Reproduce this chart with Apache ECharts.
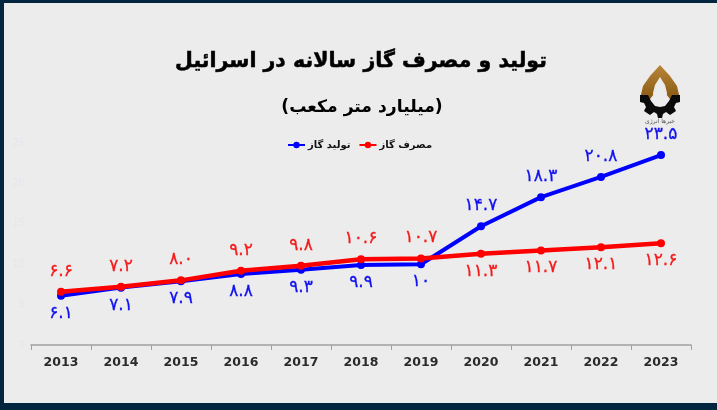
<!DOCTYPE html>
<html><head><meta charset="utf-8">
<script src="https://cdn.jsdelivr.net/npm/echarts@6/dist/echarts.min.js"></script>
<style>
html,body{margin:0;padding:0;width:717px;height:410px;background:#03263f;overflow:hidden}
#panel{position:absolute;left:4px;top:3px;width:713px;height:400px;background:#ececec}
#c{position:absolute;left:0;top:0;width:717px;height:410px;filter:blur(.65px)}
</style></head><body><div id="panel"></div><div id="c"></div>
<script>
const years=['2013','2014','2015','2016','2017','2018','2019','2020','2021','2022','2023'];
const production=[6.1,7.1,7.9,8.8,9.3,9.9,10,14.7,18.3,20.8,23.5];
const consumption=[6.6,7.2,8.0,9.2,9.8,10.6,10.7,11.3,11.7,12.1,12.6];
const productionLabels=['۶.۱','۷.۱','۷.۹','۸.۸','۹.۳','۹.۹','۱۰','۱۴.۷','۱۸.۳','۲۰.۸','۲۳.۵'];
const consumptionLabels=['۶.۶','۷.۲','۸.۰','۹.۲','۹.۸','۱۰.۶','۱۰.۷','۱۱.۳','۱۱.۷','۱۲.۱','۱۲.۶'];
const titleText='تولید و مصرف گاز سالانه در اسرائیل';
const subtitleText='(میلیارد متر مکعب)';
const productionName='تولید گاز';
const consumptionName='مصرف گاز';
const logoCaption='خبرها انرژی';

const FF='"DejaVu Sans"';
function items(vals,other,labels,color){
  return vals.map((v,i)=>{
    const up=v>other[i];
    return {value:v,label:{show:true,position:up?'top':'bottom',distance:up?8:5,formatter:labels[i],
      color:color,fontFamily:FF,fontSize:17,fontWeight:'normal',textBorderColor:color,textBorderWidth:.3}};
  });
}
const chart=echarts.init(document.getElementById('c'));
chart.setOption({
  animation:false,
  textStyle:{fontFamily:FF},
  title:[
    {text:titleText,left:356,top:46,textAlign:'center',textStyle:{fontFamily:FF,fontSize:20.5,fontWeight:'bold',color:'#000',textBorderColor:'#000',textBorderWidth:.5}},
    {text:subtitleText,left:357,top:94,textAlign:'center',textStyle:{fontFamily:FF,fontSize:17.2,fontWeight:'bold',color:'#000'}}
  ],
  legend:{left:282,top:135,itemWidth:17,itemHeight:8,itemGap:8,
    data:[productionName,consumptionName],
    textStyle:{fontFamily:FF,fontSize:10,fontWeight:'bold',color:'#111',padding:[0,0,0,-2]}},
  grid:{left:31,right:26,top:143,bottom:65,outerBoundsMode:'none'},
  xAxis:{type:'category',data:years,boundaryGap:true,
    axisLine:{lineStyle:{color:'#a0a0a0',width:1.5}},
    axisTick:{show:true,alignWithLabel:false,length:5,lineStyle:{color:'#a0a0a0'}},
    axisLabel:{color:'#2b2b2b',fontFamily:FF,fontSize:12.5,fontWeight:'bold',margin:11}},
  yAxis:{type:'value',min:0,max:25,interval:5,
    axisLine:{show:false},axisTick:{show:false},splitLine:{show:false},
    axisLabel:{color:'#e3e6ed',fontFamily:FF,fontSize:10,margin:6}},
  series:[
    {name:productionName,type:'line',data:items(production,consumption,productionLabels,'#1010f0'),
     symbol:'circle',symbolSize:8,lineStyle:{color:'#0000ff',width:4},itemStyle:{color:'#0000ff'},z:2},
    {name:consumptionName,type:'line',data:items(consumption,production,consumptionLabels,'#f51a1a'),
     symbol:'circle',symbolSize:8,lineStyle:{color:'#ff0000',width:4.5},itemStyle:{color:'#ff0000'},z:3}
  ],
  graphic:[
    {type:'group',left:640,top:65,silent:true,children:[
      {type:'polygon',shape:{points:[[20,0],[30,11],[37,21],[40,34],[30,34],[26,29],[14,29],[10,34],[0,34],[3,21],[10,11]]},
       style:{fill:new echarts.graphic.LinearGradient(0,0,0,1,[{offset:0,color:'#b8863a'},{offset:1,color:'#8a5a12'}])}},
      {type:'polygon',shape:{points:[[20,12],[25,20],[27,28],[26,35],[20,38],[14,35],[13,28],[15,20]]},style:{fill:'#ececec'}},
      {type:'polygon',shape:{points:[[0,30],[8,30],[11,36],[15,41],[20,42],[25,41],[29,36],[32,30],[40,30],[40,37],[36,38],[34,42],[36,46],[30,50],[26,47],[23,49],[22,53],[18,53],[17,49],[14,47],[10,50],[4,46],[6,42],[4,38],[0,37]]},style:{fill:'#0b0b0b'}},
      {type:'text',style:{text:logoCaption,x:20,y:53,align:'center',font:'6px "DejaVu Sans"',fill:'#555'}}
    ]}
  ]
});
</script></body></html>
